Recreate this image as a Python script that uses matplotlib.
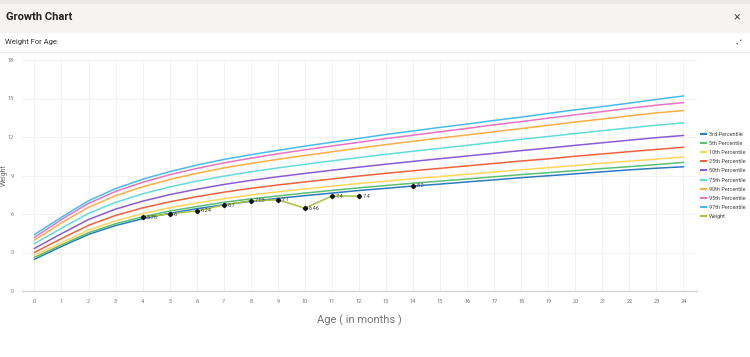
import numpy as np
import matplotlib
matplotlib.use("Agg")
import matplotlib.pyplot as plt
from matplotlib.patches import Rectangle
from matplotlib.lines import Line2D

plt.rcParams['font.family'] = ['Roboto', 'DejaVu Sans']

# months 0..24
months = list(range(25))

p3 = [2.47, 3.47, 4.41, 5.10, 5.63, 6.06, 6.41, 6.72, 6.99, 7.22, 7.43, 7.63, 7.83,
      8.00, 8.18, 8.33, 8.50, 8.66, 8.83, 8.98, 9.13, 9.29, 9.44, 9.57, 9.68]
p5 = [2.62, 3.59, 4.54, 5.24, 5.78, 6.23, 6.58, 6.91, 7.18, 7.41, 7.63, 7.84, 8.04,
      8.22, 8.40, 8.56, 8.73, 8.90, 9.07, 9.22, 9.38, 9.54, 9.69, 9.85, 10.02]
p10 = [2.78, 3.76, 4.75, 5.47, 6.03, 6.49, 6.86, 7.19, 7.48, 7.73, 7.95, 8.17, 8.38,
       8.56, 8.75, 8.92, 9.10, 9.27, 9.45, 9.61, 9.78, 9.96, 10.12, 10.28, 10.43]
p25 = [3.01, 4.09, 5.12, 5.89, 6.48, 6.95, 7.35, 7.70, 8.00, 8.26, 8.50, 8.73, 8.96,
       9.17, 9.37, 9.56, 9.75, 9.94, 10.13, 10.30, 10.50, 10.68, 10.86, 11.03, 11.20]
p50 = [3.32, 4.47, 5.57, 6.38, 7.00, 7.51, 7.93, 8.30, 8.62, 8.90, 9.16, 9.41, 9.65,
       9.88, 10.10, 10.31, 10.52, 10.73, 10.94, 11.14, 11.35, 11.55, 11.75, 11.95, 12.12]
p75 = [3.69, 4.89, 6.05, 6.91, 7.57, 8.11, 8.56, 8.95, 9.29, 9.59, 9.87, 10.14, 10.40,
       10.65, 10.89, 11.12, 11.35, 11.59, 11.82, 12.04, 12.27, 12.49, 12.71, 12.92, 13.10]
p90 = [3.97, 5.31, 6.53, 7.43, 8.12, 8.69, 9.17, 9.59, 9.94, 10.26, 10.56, 10.85, 11.13,
       11.41, 11.67, 11.92, 12.16, 12.41, 12.66, 12.91, 13.17, 13.40, 13.65, 13.88, 14.06]
p95 = [4.18, 5.57, 6.83, 7.76, 8.47, 9.06, 9.55, 9.98, 10.35, 10.69, 11.00, 11.30, 11.59,
       11.88, 12.14, 12.41, 12.67, 12.95, 13.20, 13.47, 13.73, 13.98, 14.24, 14.48, 14.68]
p97 = [4.40, 5.75, 7.03, 7.98, 8.71, 9.30, 9.81, 10.25, 10.62, 10.96, 11.29, 11.59, 11.89,
       12.20, 12.47, 12.75, 13.01, 13.29, 13.55, 13.84, 14.12, 14.37, 14.64, 14.93, 15.20]

percentile_labels = ['3rd Percentile', '5th Percentile', '10th Percentile',
                     '25th Percentile', '50th Percentile', '75th Percentile',
                     '90th Percentile', '95th Percentile', '97th Percentile']
percentile_colors = ['#2f7bbf', '#5cbf72', '#ffd65a', '#f4613f', '#8a5bd6',
                     '#63dcdc', '#ffad45', '#ea73c2', '#45bdf2']

# child's recorded weights (month 13 missing)
weight_months = [4, 5, 6, 7, 8, 9, 10, 11, 12, 13, 14]
weight_values = [5.76, 6, 6.24, 6.7, 7.03, 7.1, 6.46, 7.4, 7.4, None, 8.2]

fig = plt.figure(figsize=(7.5, 3.57), dpi=100)
W, H = 750, 357

def fx(px):
    return px / W

def fy(py):
    return 1 - py / H

# header band
fig.patches.append(Rectangle((0, fy(33)), 1, 33 / H, transform=fig.transFigure,
                             facecolor='#f5f4f2', edgecolor='none', zorder=0))
fig.patches.append(Rectangle((0, fy(4)), 1, 4 / H, transform=fig.transFigure,
                             facecolor='#ebe9e6', edgecolor='none', zorder=0))
fig.text(fx(6), fy(17), 'Growth Chart', fontsize=8, fontweight='bold',
         color='#222222', va='center', ha='left')
fig.text(fx(737), fy(17), '×', fontsize=9, color='#555555', va='center', ha='center')
fig.text(fx(5), fy(42), 'Weight For Age', fontsize=5.5, color='#333333',
         va='center', ha='left')
# small "compress" icon drawn as two arrows
arrow_style = dict(arrowstyle='-|>,head_length=0.25,head_width=0.15',
                   color='#555555', lw=0.6)
fig.add_artist(matplotlib.patches.FancyArrowPatch((fx(735), fy(46)), (fx(738), fy(43)),
                                                  transform=fig.transFigure, **arrow_style))
fig.add_artist(matplotlib.patches.FancyArrowPatch((fx(743), fy(38)), (fx(740), fy(41)),
                                                  transform=fig.transFigure, **arrow_style))
fig.lines.append(Line2D([0, 1], [fy(52), fy(52)], transform=fig.transFigure,
                        color='#ececec', linewidth=0.8))

ax = fig.add_axes([fx(22), fy(291), (697 - 22) / W, (291 - 60) / H])

for vals, lab, col in zip([p3, p5, p10, p25, p50, p75, p90, p95, p97],
                          percentile_labels, percentile_colors):
    ax.plot(months, vals, color=col, linewidth=1.1, label=lab, zorder=2)

wv = np.array([np.nan if v is None else v for v in weight_values], dtype=float)
ax.plot(weight_months, wv, color='#a8c33c', linewidth=1.1, label='Weight', zorder=3)
ax.plot(weight_months, wv, linestyle='none', marker='D', markersize=2.2,
        color='#111111', zorder=4)
for m, v in zip(weight_months, weight_values):
    if v is None:
        continue
    ax.annotate(f'{v:g}', (m, v), xytext=(3, 0), textcoords='offset points',
                fontsize=4, color='#444444', va='center', ha='left', zorder=5)

ax.set_xlim(-0.46, 24.5)
ax.set_ylim(0, 18)
ax.set_xticks(range(0, 25))
ax.set_yticks(range(0, 19, 3))
ax.tick_params(axis='both', length=0, labelsize=4, colors='#777777', pad=6)
ax.grid(True, color='#f0f0f0', linewidth=0.6)
ax.set_axisbelow(True)
for s in ['top', 'right', 'left']:
    ax.spines[s].set_visible(False)
ax.spines['bottom'].set_color('#cccccc')
ax.spines['bottom'].set_linewidth(0.8)

ax.set_xlabel('Age ( in months )', fontsize=8, color='#777777', labelpad=7)
ax.set_ylabel('Weight', fontsize=5, color='#666666')
ax.yaxis.set_label_coords(-14 / 675, 0.5)

leg = ax.legend(loc='center left', bbox_to_anchor=(1.0, 0.5), frameon=False,
                fontsize=4, handlelength=0.8, handletextpad=0.5,
                labelspacing=0.75, borderaxespad=0.4)
for t in leg.get_texts():
    t.set_color('#444444')
for h in leg.get_lines():
    h.set_linewidth(1.5)

fig.savefig('out.png', dpi=100)
